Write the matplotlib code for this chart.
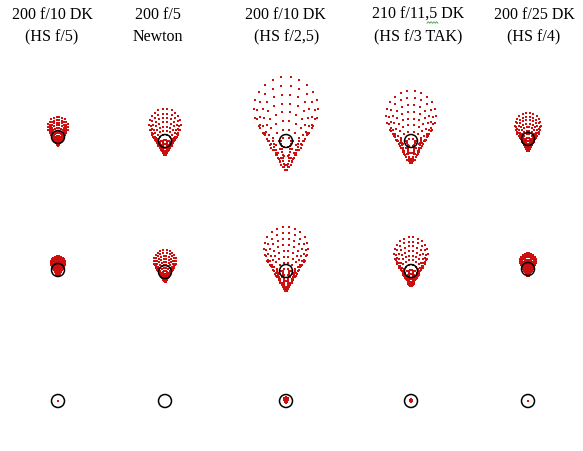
import numpy as np
import matplotlib.pyplot as plt
from matplotlib.patches import Circle

# column titles (two lines each)
titles_top = ["200 f/10 DK", "200 f/5", "200 f/10 DK", "210 f/11,5 DK", "200 f/25 DK"]
titles_bot = ["(HS f/5)", "Newton", " (HS f/2,5)", "(HS f/3 TAK)", "(HS f/4)"]
title_x = [52, 158, 285, 418, 534]

# spot centres (pixels) and coma size per field row
col_x = [58, 165, 286, 411, 528]
row1_y = [138, 142, 142, 142, 140]
row2_y = [271, 273, 272, 272, 270]
row3_y = [402, 402, 402, 402, 402]
coma_row1 = [10, 16, 32, 25, 13]
coma_row2 = [7, 11, 22, 17, 8]
coma_row3 = [0.2, 0, 1.8, 0.8, 0.2]
airy_r = 6.5

# pupil sampling: equal-area rings, rays per ring growing with radius
n_rings = 11
n_outer = 22
pr, pa = [], []
for k in range(1, n_rings + 1):
    rho = np.sqrt(k / n_rings)
    n = max(4, 2 * int(round(n_outer * rho / 2)))
    ang = np.pi * (np.arange(n) + 0.5) / n
    pr += [rho] * n
    pa += list(ang)
pr = np.array(pr)
pa = np.array(pa)

fig = plt.figure(figsize=(5.83, 4.52), dpi=100)
ax = fig.add_axes([0, 0, 1, 1])
ax.set_xlim(0, 583)
ax.set_ylim(452, 0)
ax.axis("off")

for i in range(5):
    ax.text(title_x[i], 15, titles_top[i], ha="center", va="center",
            family="Liberation Serif", fontsize=11.5)
    ax.text(title_x[i], 37, titles_bot[i], ha="center", va="center",
            family="Liberation Serif", fontsize=11.5)

    for ys, cs in [(row1_y, coma_row1), (row2_y, coma_row2), (row3_y, coma_row3)]:
        c = cs[i]
        if c > 0:
            # coma spot: apex at bottom, fan opens upward
            dx = c * pr**2 * np.sin(2 * pa)
            dy = c * pr**2 * (2 + np.cos(2 * pa))
            apex = ys[i] + c
            ax.scatter(col_x[i] + dx, apex - dy, s=0.6, marker="s", color="#cc1010",
                       linewidths=0, zorder=2)
        ax.add_patch(Circle((col_x[i], ys[i]), airy_r, fill=False,
                            edgecolor="black", linewidth=1.1, zorder=3))

# spell-check squiggle under "11,5"
sq_x = np.linspace(427, 438, 9)
sq_y = 23.5 + 0.8 * (-1) ** np.arange(9)
ax.plot(sq_x, sq_y, color="#40a040", linewidth=0.6)

fig.savefig("out.png", dpi=100, facecolor="white")
